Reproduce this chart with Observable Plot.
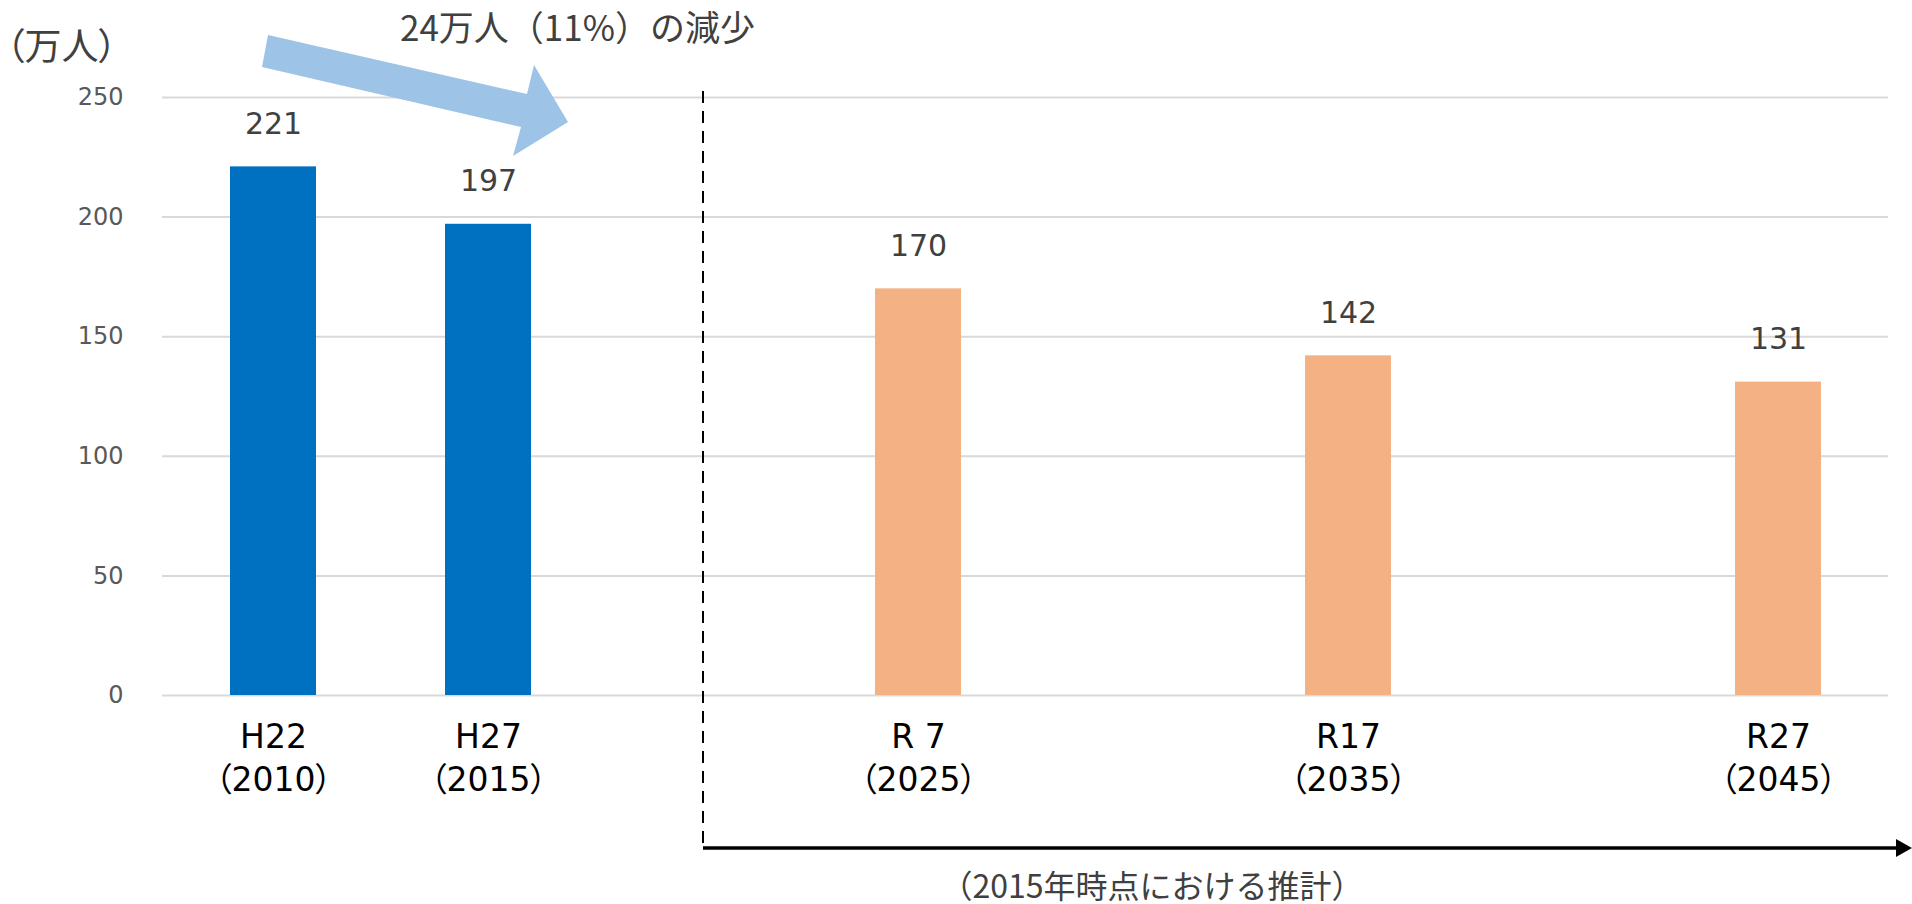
<!DOCTYPE html>
<html><head><meta charset="utf-8">
<script src="https://cdn.jsdelivr.net/npm/d3@7"></script>
<script src="https://cdn.jsdelivr.net/npm/@observablehq/plot@0.6"></script>
<style>
html,body{margin:0;padding:0;background:#fff;}
#chart svg text{font-feature-settings:"palt" 1;}
#chart svg text.nopalt{font-feature-settings:normal;}
</style></head><body><div id="chart"></div>
<script>
// ---- data ----
const slotYears = [2010, 2015, 2020, 2025, 2030, 2035, 2040, 2045];
const years = [2010, 2015, 2025, 2035, 2045];
const eraLabels = ["H22", "H27", "R 7", "R17", "R27"];
const population = [221, 197, 170, 142, 131];
const seriesKind = ["実績", "実績", "推計", "推計", "推計"];
const kindColors = ["#0070C0", "#F4B183"];
const yTicks = [0, 50, 100, 150, 200, 250];
const unitLabel = "（万人）";
const changeNote = "24万人（11%）の減少";
const projectionNote = "（2015年時点における推計）";
const projectionStart = 2020;

const data = years.map((year, i) => ({year, era: eraLabels[i], value: population[i], kind: seriesKind[i]}));
const labelOf = new Map(data.map(d => [d.year, `${d.era}\n（${d.year}）`]));

const W = 1912, H = 904;
const plot = Plot.plot({
  width: W, height: H,
  marginLeft: 162, marginRight: 24, marginTop: 97, marginBottom: 209,
  style: {background: "white", fontFamily: "'DejaVu Sans', 'Noto Sans CJK JP', sans-serif", overflow: "visible"},
  x: {domain: slotYears, paddingInner: 0.6, paddingOuter: 0.3, axis: null},
  y: {domain: [0, 250], axis: null},
  color: {domain: ["実績", "推計"], range: kindColors},
  marks: [
    Plot.gridY(yTicks, {stroke: "#D9D9D9", strokeOpacity: 1, strokeWidth: 2}),
    Plot.axisY(yTicks, {tickSize: 0, tickPadding: 39, fontSize: 24, fill: "#595959", label: null}),
    Plot.barY(data, {x: "year", y: "value", fill: "kind"}),
    Plot.text(data, {x: "year", y: "value", text: d => String(d.value), lineAnchor: "bottom", dy: -33, fontSize: 30, fill: "#404040"}),
    Plot.axisX(years, {tickSize: 0, tickPadding: 22, tickFormat: y => labelOf.get(y), fontSize: 33, fill: "#000", lineHeight: 1.3, label: null})
  ]
});
document.getElementById("chart").appendChild(plot);

// ---- annotations positioned from the plot's scales ----
const sx = plot.scale("x"), sy = plot.scale("y");
const cx = v => sx.apply(v) + sx.bandwidth / 2;
const svg = d3.select(plot);
const yTop = sy.apply(250), yZero = sy.apply(0);
const xSplit = cx(projectionStart);
const yArrow = yZero + 153;

// block arrow (light blue) from H22 toward H27
const ax = cx(years[0]), ay = yTop;
const pts = [[ax - 5, ay - 62], [ax + 254, ay - 3], [ax + 261, ay - 32], [ax + 295, ay + 25], [ax + 240, ay + 59], [ax + 248, ay + 30], [ax - 11, ay - 30]];
svg.append("polygon").attr("points", pts.map(p => p.join(",")).join(" ")).attr("fill", "#9DC3E6");

// dashed separator
svg.append("line").attr("x1", xSplit).attr("x2", xSplit).attr("y1", yTop - 6).attr("y2", yArrow)
  .attr("stroke", "#000").attr("stroke-width", 2).attr("stroke-dasharray", "12,8");

// horizontal arrow
svg.append("line").attr("x1", xSplit).attr("x2", W - 12).attr("y1", yArrow).attr("y2", yArrow)
  .attr("stroke", "#000").attr("stroke-width", 3.5);
svg.append("polygon").attr("points", `${W - 16},${yArrow - 9} ${W},${yArrow} ${W - 16},${yArrow + 9}`).attr("fill", "#000");

const jp = "'Noto Sans CJK JP', sans-serif";
svg.append("text").attr("x", 6).attr("y", 60).attr("text-anchor", "start").attr("font-size", 37).attr("fill", "#404040")
  .style("font-family", jp).text(unitLabel);
svg.append("text").attr("class", "nopalt").attr("x", 400).attr("y", 41).attr("text-anchor", "start").attr("font-size", 35).attr("fill", "#404040")
  .style("font-family", jp).text(changeNote);
svg.append("text").attr("class", "nopalt").attr("x", 1152).attr("y", 898).attr("text-anchor", "middle").attr("font-size", 32).attr("fill", "#404040")
  .style("font-family", jp).text(projectionNote);
</script></body></html>
